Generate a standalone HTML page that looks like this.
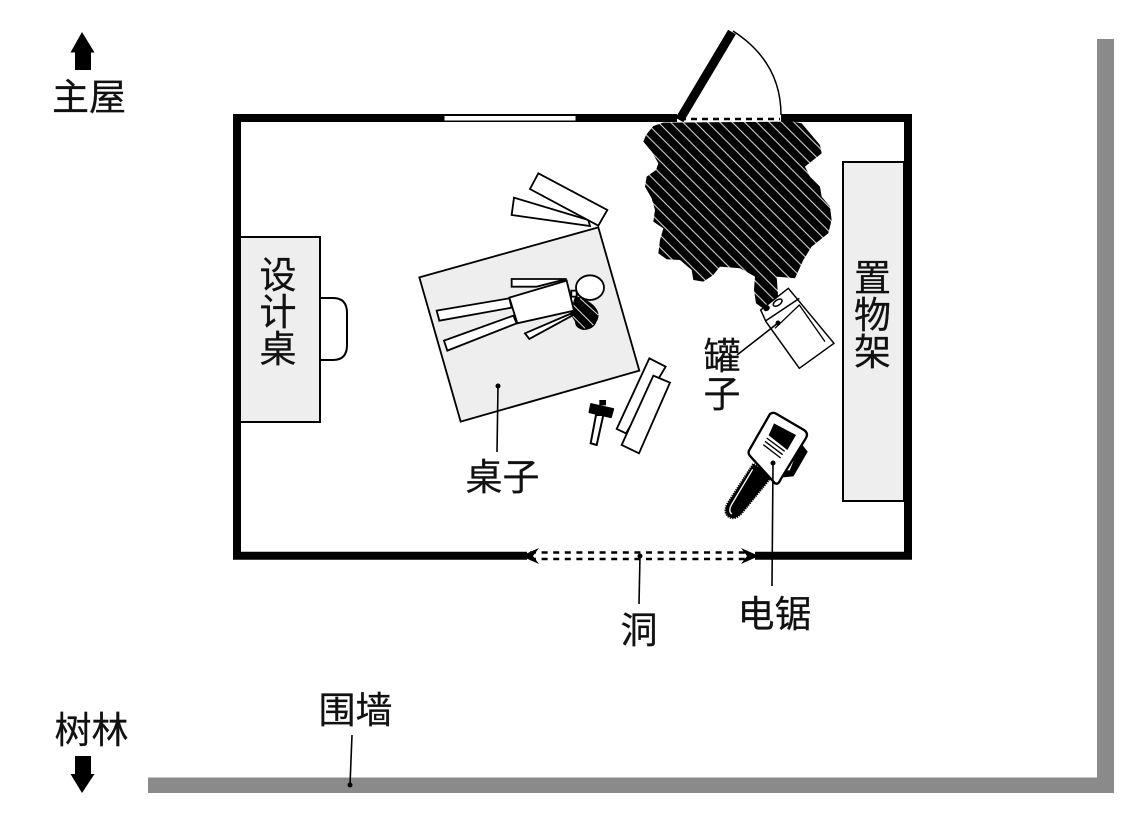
<!DOCTYPE html>
<html><head><meta charset="utf-8"><style>
html,body{margin:0;padding:0;background:#fff}
svg{display:block}
text{font-family:"Liberation Sans","Noto Sans CJK SC",sans-serif;font-size:37px;fill:#111;stroke:#111;stroke-width:.25}
</style></head><body>
<svg width="1147" height="840" viewBox="0 0 1147 840" xmlns="http://www.w3.org/2000/svg">
<defs>
<pattern id="h" patternUnits="userSpaceOnUse" width="37" height="37">
<rect width="37" height="37" fill="#000"/>
<path d="M-5,-5L42,42M-5,32L5,42M32,-5L42,5" stroke="#ddd" stroke-width="3"/>
</pattern>
</defs>
<rect x="148" y="777.5" width="966" height="15.5" fill="#8a8a8a"/>
<rect x="1097" y="39" width="17" height="754" fill="#8a8a8a"/>
<polygon points="82,32 94.5,52.5 91,52.5 91,70 75,70 75,52.5 70.5,52.5" fill="#000"/>
<polygon points="75,756 91,756 91,774 94.5,774 82,793 70.5,774 75,774" fill="#000"/>

<!-- walls -->
<path d="M677,118H237V555.8H527M755,555.8H908V118H781" fill="none" stroke="#000" stroke-width="8"/>
<rect x="444" y="115.5" width="132" height="5.5" fill="#fff" stroke="#000" stroke-width="1"/>
<rect x="678" y="114" width="103" height="8" fill="#fff"/>
<path d="M680,119H780" stroke="#000" stroke-width="2.5" stroke-dasharray="6,5"/>
<path d="M679.500,120L732,32" stroke="#000" stroke-width="9"/>
<path d="M733,31Q781,62 781,115" fill="none" stroke="#000" stroke-width="1.5"/>
<!-- blob -->
<g transform="translate(630,20) scale(.3333)">
<path d="M100,308L70,318L48,345L40,365L65,395L85,430L78,450L50,470L45,500L65,535L75,570L70,605L100,625L90,660L85,700L110,718L150,720L185,750L190,780L220,785L250,765L270,740L330,745L375,770L372,810L378,850L400,866L445,840L440,770L495,775L520,720L545,680L595,640L605,600L600,560L575,530L570,500L540,470L525,440L575,400L570,375L515,310L490,305Z" fill="url(#h)"/>
</g>
<!-- hole -->
<path d="M530,552.5H745M530,559H745" stroke="#000" stroke-width="2.6" stroke-dasharray="6,5.6"/>
<polygon points="521,556 539,548 533,556 539,564" fill="#000"/>
<polygon points="759,556 741,548 747,556 741,564" fill="#000"/>
<!-- desk -->
<path d="M320,298H333Q347,298 347,313V345Q347,360 333,360H320" fill="#fff" stroke="#000" stroke-width="2"/>
<rect x="240" y="237" width="80" height="185" fill="#eee" stroke="#000" stroke-width="2"/>
<rect x="843" y="162" width="61" height="339" fill="#eee" stroke="#000" stroke-width="2"/>
<!-- table group -->
<g transform="translate(410,165) scale(.3333)" stroke="#000" stroke-width="5.5" stroke-linejoin="miter">
<polygon points="312,98 305,150 540,183 535,165" fill="#fff"/>
<polygon points="385,25 592,135 565,182 360,72" fill="#fff"/>
<polygon points="28,337 565,187 688,617 152,770" fill="#eee"/>
<path d="M495,395Q520,395 550,420Q575,445 560,470Q550,495 520,495Q495,490 495,470L480,445Z" fill="#000" stroke="none"/>
<path d="M510,400L565,450M490,420L550,480M485,450L525,490" stroke="#ddd" stroke-width="3" fill="none"/>
<polygon points="345,505 480,447 490,450 358,522" fill="#fff"/>
<polygon points="305,342 470,342 380,365 305,365" fill="#fff"/>
<polygon points="80,437 298,400 305,428 88,467" fill="#fff"/>
<polygon points="102,527 310,452 320,475 112,557" fill="#fff"/>
<polygon points="298,398 470,347 492,437 322,475" fill="#fff"/>
<rect x="484" y="377" width="16" height="18" fill="#fff"/>
<ellipse cx="540" cy="368" rx="42" ry="37" fill="#fff"/>
</g>
<!-- hammer, planks -->
<g transform="translate(580,280) scale(.3333)" stroke="#000" stroke-width="5.5">
<polygon points="208,235 257,260 138,460 110,447" fill="#fff"/>
<polygon points="220,287 270,308 177,520 125,495" fill="#fff"/>
<polygon points="48,405 70,405 50,495 32,490" fill="#fff" stroke-width="6"/>
<polygon points="33,372 100,387 93,412 28,397" fill="#000" stroke-width="5" stroke-linejoin="round"/>
<rect x="58" y="360" width="20" height="16" fill="#000" stroke="none"/>
</g>
<!-- can -->
<g transform="translate(740,270) scale(.3333)" stroke="#000" stroke-width="4.5" fill="#fff" stroke-linejoin="round">
<polygon points="62,120 145,55 282,220 178,295 78,155"/>
<path d="M78,152L178,85" fill="none"/>
<path d="M105,175L178,105L255,215" fill="none" stroke-width="4"/>
<ellipse cx="80" cy="115" rx="10" ry="8" fill="#000" stroke="none" transform="rotate(-35 80 115)"/>
<ellipse cx="113" cy="98" rx="15" ry="8" fill="#fff" transform="rotate(-35 113 98)"/>
</g>
<!-- chainsaw -->
<g transform="translate(710,400) scale(.3333)" stroke="#000" fill="#fff" stroke-linejoin="round">
<path d="M272,130L292,155L250,228L210,232L220,212L240,212Z" fill="#000" stroke-width="2"/>
<path d="M264,150L232,208" stroke="#fff" stroke-width="6"/>
<path d="M130,192L52,312Q40,338 56,350Q75,362 96,338L186,228Z" fill="#000" stroke="#000" stroke-width="7" stroke-dasharray="4,3"/>
<path d="M130,192L52,312Q40,338 56,350Q75,362 96,338L186,228Z" fill="#000" stroke="none"/>
<path d="M128,208L64,315Q54,335 66,342" fill="none" stroke="#fff" stroke-width="4"/>
<path d="M180,42Q190,35 200,42L282,90Q296,100 288,114L212,238Q205,255 195,250L122,170Q112,160 118,150Z" stroke-width="7"/>
<polygon points="192,70 258,105 232,150 176,106" fill="#000" stroke="none"/>
<path d="M180,100L232,140M172,112L226,152M167,122L220,162M162,132L214,172" stroke-width="4" fill="none" transform="translate(-2,2)"/>
</g>
<!-- leaders -->
<g stroke="#000" stroke-width="1.6" fill="none">
<path d="M498,386L497,452"/><path d="M640,556L639,604"/><path d="M773,463L772,586"/><path d="M778,323L737,355"/><path d="M352,735L350,785"/>
</g>
<g fill="#000">
<circle cx="498" cy="386" r="2.5"/><circle cx="640" cy="556" r="2.5"/><circle cx="773" cy="463" r="2.5"/><circle cx="778" cy="323" r="2.5"/><circle cx="350" cy="785" r="2.5"/>
</g>
<!-- labels -->
<text x="52" y="110">主屋</text>
<text x="54.500" y="743">树林</text>
<text x="318.500" y="723">围墙</text>
<text x="465.500" y="490">桌子</text>
<text x="620.500" y="643">洞</text>
<text x="737.500" y="627">电锯</text>
<text x="703.500" y="369">罐</text>
<text x="703.500" y="407">子</text>
<text x="259.500" y="288">设</text>
<text x="259.500" y="325">计</text>
<text x="259.500" y="362">桌</text>
<text x="854" y="291">置</text>
<text x="854" y="328">物</text>
<text x="854" y="365">架</text>
</svg>
</body></html>
